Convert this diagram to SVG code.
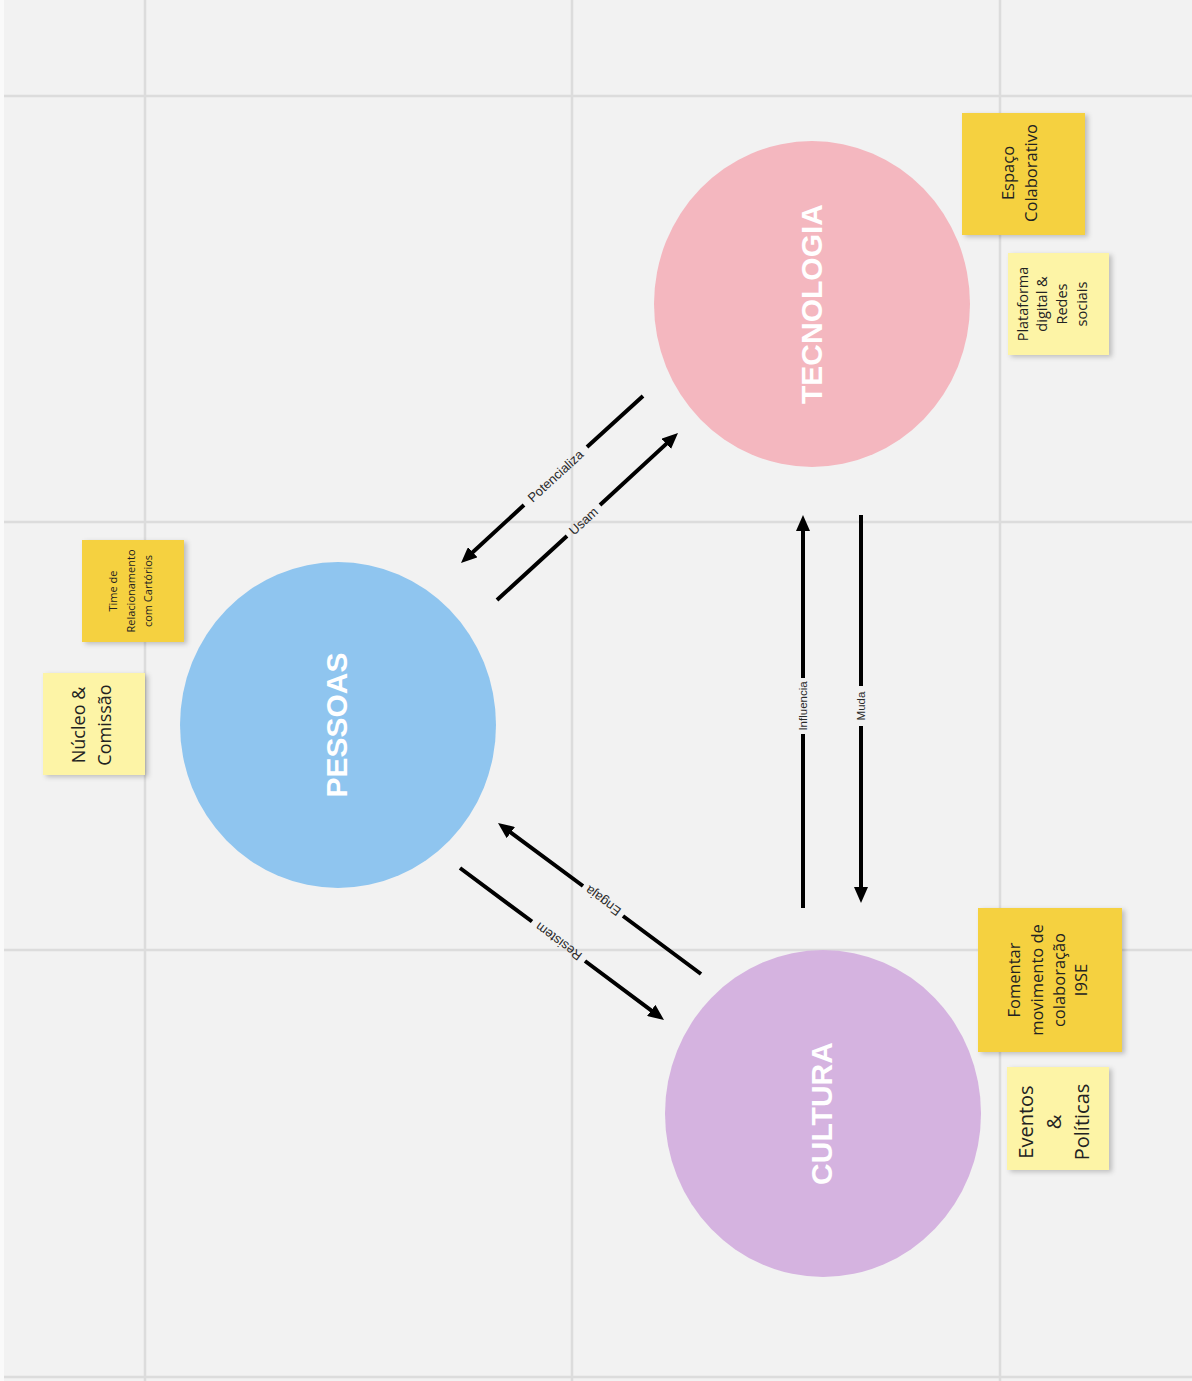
<svg xmlns="http://www.w3.org/2000/svg" width="1192" height="1381" viewBox="0 0 1192 1381">
<style>
.grid{stroke:#dcdcdc;stroke-width:2.5;fill:none}
.circ-label{font-family:"Liberation Sans",Arial,sans-serif;font-weight:bold;font-size:30px;fill:#ffffff;text-anchor:middle}
.conn{stroke:#000;stroke-width:4;fill:none;marker-end:url(#arrow)}
.clabel{font-family:"Liberation Sans",Arial,sans-serif;font-size:13px;fill:#2a2a2a;text-anchor:middle}
.vlabel{font-family:"Liberation Sans",Arial,sans-serif;font-size:11.5px;fill:#2a2a2a;text-anchor:middle}
.note-text{font-family:"Open Sans","Noto Sans",sans-serif;fill:#222;text-anchor:middle}
.gold{fill:#f5d13f}
.pale{fill:#fdf4a6}
</style>
<defs>
<marker id="arrow" viewBox="0 0 16 14" refX="10" refY="7" markerWidth="16" markerHeight="14" markerUnits="userSpaceOnUse" orient="auto">
<path d="M0,0 L16,7 L0,14 z" fill="#000"/>
</marker>
<filter id="shadow" x="-20%" y="-20%" width="150%" height="150%">
<feDropShadow dx="3" dy="2" stdDeviation="2.5" flood-color="#000" flood-opacity="0.22"/>
</filter>
</defs>
<rect x="0" y="0" width="1192" height="1381" fill="#f2f2f2"/>
<rect x="0" y="0" width="4" height="1381" fill="#fafafa"/>
<g id="grid">
<line class="grid" x1="145" y1="0" x2="145" y2="1381"/>
<line class="grid" x1="572" y1="0" x2="572" y2="1381"/>
<line class="grid" x1="1000" y1="0" x2="1000" y2="1381"/>
<line class="grid" x1="4" y1="96" x2="1192" y2="96"/>
<line class="grid" x1="4" y1="522" x2="1192" y2="522"/>
<line class="grid" x1="4" y1="950" x2="1192" y2="950"/>
<line class="grid" x1="4" y1="1377" x2="1192" y2="1377"/>
</g>
<g id="connectors">
<g id="c-potencializa">
<path class="conn" d="M643,396 L587,447 M524,505 L465.4,559"/>
<text class="clabel" transform="translate(555.5,476) rotate(-42.4)" dy="0.35em">Potencializa</text>
</g>
<g id="c-usam">
<path class="conn" d="M497,600 L567,536 M600,505 L673.6,437.1"/>
<text class="clabel" transform="translate(583.5,521) rotate(-42.7)" dy="0.35em">Usam</text>
</g>
<g id="c-engaja">
<path class="conn" d="M701,974 L623,916 M583,886 L502.8,826.6"/>
<text class="clabel" transform="translate(603,901) rotate(216.7)" dy="0.35em">Engaja</text>
</g>
<g id="c-resistem">
<path class="conn" d="M460,868 L532,921.5 M585,961 L659.2,1016.4"/>
<text class="clabel" transform="translate(558.5,941.5) rotate(216.7)" dy="0.35em">Resistem</text>
</g>
<g id="c-influencia">
<path class="conn" d="M803,908 L803,734 M803,678 L803,521"/>
<text class="vlabel" transform="translate(803,706) rotate(-90)" dy="0.35em">Influencia</text>
</g>
<g id="c-muda">
<path class="conn" d="M861,515 L861,686 M861,726 L861,897"/>
<text class="vlabel" transform="translate(861,706) rotate(-90)" dy="0.35em">Muda</text>
</g>
</g>
<g id="node-tecnologia">
<ellipse cx="812" cy="304" rx="158" ry="163" fill="#f4b7bf"/>
<text class="circ-label" transform="translate(822,304) rotate(-90)">TECNOLOGIA</text>
</g>
<g id="node-pessoas">
<ellipse cx="338" cy="725" rx="158" ry="163" fill="#8fc5ef"/>
<text class="circ-label" transform="translate(347,725) rotate(-90)">PESSOAS</text>
</g>
<g id="node-cultura">
<ellipse cx="823" cy="1113.5" rx="158" ry="163.5" fill="#d5b3e0"/>
<text class="circ-label" transform="translate(832,1113.5) rotate(-90)">CULTURA</text>
</g>
<g id="note-espaco">
<rect class="gold" x="962" y="113" width="123" height="122" filter="url(#shadow)"/>
<text class="note-text" font-size="16.5" transform="translate(1014,173) rotate(-90)">Espaço</text>
<text class="note-text" font-size="16.5" transform="translate(1037,173) rotate(-90)">Colaborativo</text>
</g>
<g id="note-plataforma">
<rect class="pale" x="1008" y="253" width="101" height="102" filter="url(#shadow)"/>
<text class="note-text" font-size="14.5" transform="translate(1028,304) rotate(-90)">Plataforma</text>
<text class="note-text" font-size="14.5" transform="translate(1047,304) rotate(-90)">digital &amp;</text>
<text class="note-text" font-size="14.5" transform="translate(1067,304) rotate(-90)">Redes</text>
<text class="note-text" font-size="14.5" transform="translate(1087,304) rotate(-90)">sociais</text>
</g>
<g id="note-time">
<rect class="gold" x="82" y="540" width="102" height="102" filter="url(#shadow)"/>
<text class="note-text" font-size="11" transform="translate(117,591) rotate(-90)">Time de</text>
<text class="note-text" font-size="11" transform="translate(135,591) rotate(-90)">Relacionamento</text>
<text class="note-text" font-size="11" transform="translate(152,591) rotate(-90)">com Cartórios</text>
</g>
<g id="note-nucleo">
<rect class="pale" x="43" y="673" width="102" height="102" filter="url(#shadow)"/>
<text class="note-text" font-size="18" transform="translate(85,725) rotate(-90)">Núcleo &amp;</text>
<text class="note-text" font-size="18" transform="translate(111,725) rotate(-90)">Comissão</text>
</g>
<g id="note-fomentar">
<rect class="gold" x="978" y="908" width="144" height="144" filter="url(#shadow)"/>
<text class="note-text" font-size="16.5" transform="translate(1020,980) rotate(-90)">Fomentar</text>
<text class="note-text" font-size="16.5" transform="translate(1043,980) rotate(-90)">movimento de</text>
<text class="note-text" font-size="16.5" transform="translate(1065,980) rotate(-90)">colaboração</text>
<text class="note-text" font-size="16.5" transform="translate(1087,980) rotate(-90)">I9SE</text>
</g>
<g id="note-eventos">
<rect class="pale" x="1007" y="1067" width="102" height="103" filter="url(#shadow)"/>
<text class="note-text" font-size="20" transform="translate(1033,1122) rotate(-90)">Eventos</text>
<text class="note-text" font-size="20" transform="translate(1061,1122) rotate(-90)">&amp;</text>
<text class="note-text" font-size="20" transform="translate(1089,1122) rotate(-90)">Políticas</text>
</g>
</svg>
